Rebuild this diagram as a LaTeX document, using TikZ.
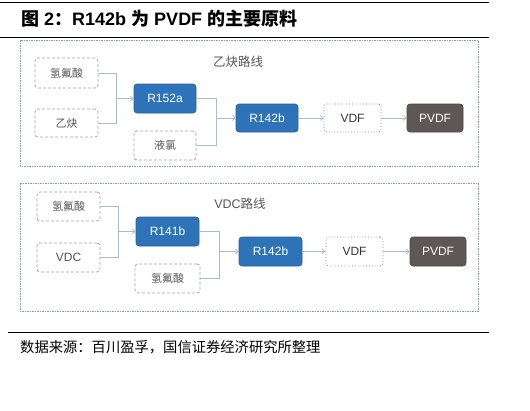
\documentclass[tikz,border=0pt]{standalone}
\usepackage{fontspec}
\setmainfont{Liberation Sans}
\newfontfamily\cjk{Noto Sans CJK SC}
\usetikzlibrary{arrows.meta}
\definecolor{bluef}{HTML}{2E72B8}
\definecolor{blued}{HTML}{2A5F9A}
\definecolor{pvdfc}{HTML}{5F5755}
\definecolor{framec}{HTML}{8C99A8}
\definecolor{linec}{HTML}{A8BBD0}
\definecolor{dashc}{HTML}{A3A3A3}
\definecolor{textg}{HTML}{555555}
\tikzset{
  base/.style={rounded corners=3pt, font=\fontsize{12}{14}\selectfont, inner sep=0pt},
  inbox/.style={base, draw=dashc, dashed, line width=0.8pt, text=textg, dash pattern=on 3pt off 2pt},
  cjklabel/.style={font=\fontsize{11}{13}\selectfont\cjk},
  bluebox/.style={base, draw=blued, fill=bluef, text=white, line width=0.6pt},
  vdfbox/.style={base, draw=dashc!80!black, dotted, line width=0.8pt, text=black!80},
  pvdfbox/.style={base, draw=pvdfc!80!black, fill=pvdfc, text=white, line width=0.6pt},
  conn/.style={draw=linec, line width=0.7pt},
  arr/.style={conn, -{Straight Barb[length=3pt,width=5pt]}},
  frame/.style={draw=framec, dashed, dash pattern=on 1.5pt off 1pt, line width=0.8pt},
  rule/.style={draw=black, line width=0.8pt},
  routetitle/.style={text=textg, font=\fontsize{12.5}{14}\selectfont}
}
\begin{document}
\begin{tikzpicture}[x=1pt,y=-1pt]
\useasboundingbox (0,0) rectangle (530,410);
% rules and captions
\draw[rule] (0,2) -- (489,2);
\draw[rule] (0,37) -- (489,37);
\draw[rule] (8,332) -- (489,332);
\node[anchor=west, inner sep=0pt, font=\fontsize{18}{21}\selectfont\bfseries] (title) at (21,19)
  {{\cjk\bfseries 图} 2{\cjk\bfseries ：}R142b {\cjk\bfseries 为} PVDF {\cjk\bfseries 的主要原料}};
\node[anchor=west, inner sep=0pt, font=\fontsize{14.3}{16}\selectfont\cjk] (src) at (20,347)
  {数据来源：百川盈孚，国信证券经济研究所整理};
% frames
\draw[frame] (20,40) rectangle (478,166);
\draw[frame] (20,183) rectangle (478,311);
% top route
\node[routetitle, font=\fontsize{12.5}{14}\selectfont\cjk] (t1) at (238,62) {乙炔路线};
\node[inbox, cjklabel, minimum width=63pt, minimum height=30pt] (hf1) at (66.5,73) {氢氟酸};
\node[inbox, cjklabel, minimum width=63pt, minimum height=28pt] (yq) at (66.5,123) {乙炔};
\node[bluebox, minimum width=62pt, minimum height=29pt] (r152a) at (165,98.5) {R152a};
\node[inbox, cjklabel, minimum width=62pt, minimum height=29pt] (yl) at (165,145.5) {液氯};
\node[bluebox, minimum width=62pt, minimum height=28pt] (r142b) at (267,118) {R142b};
\node[vdfbox, minimum width=57pt, minimum height=28pt] (vdf) at (352.5,118) {VDF};
\node[pvdfbox, minimum width=56pt, minimum height=28pt] (pvdf) at (435,118) {PVDF};
\coordinate (j1) at (116,98.5);
\coordinate (j2) at (216,118);
\draw[conn] (hf1.east) -| (j1);
\draw[conn] (yq.east) -| (j1);
\draw[arr] (j1) -- (r152a.west);
\draw[conn] (r152a.east) -| (j2);
\draw[conn] (yl.east) -| (j2);
\draw[arr] (j2) -- (r142b.west);
\draw[arr] (r142b.east) -- (vdf.west);
\draw[arr] (vdf.east) -- (pvdf.west);
% bottom route
\node[routetitle] (t2) at (240,204) {VDC{\cjk 路线}};
\node[inbox, cjklabel, minimum width=63pt, minimum height=29pt] (hf2) at (68.5,206.5) {氢氟酸};
\node[inbox, minimum width=63pt, minimum height=29pt] (vdc) at (68.5,257.5) {VDC};
\node[bluebox, minimum width=63pt, minimum height=29pt] (r141b) at (167.5,231.5) {R141b};
\node[inbox, cjklabel, minimum width=65pt, minimum height=29pt] (hf3) at (167.5,278.5) {氢氟酸};
\node[bluebox, minimum width=63pt, minimum height=29pt] (r142b2) at (270.5,251.5) {R142b};
\node[vdfbox, minimum width=57pt, minimum height=29pt] (vdf2) at (354.5,251.5) {VDF};
\node[pvdfbox, minimum width=56pt, minimum height=29pt] (pvdf2) at (438,251.5) {PVDF};
\coordinate (j3) at (118,231.5);
\coordinate (j4) at (219,251.5);
\draw[conn] (hf2.east) -| (j3);
\draw[conn] (vdc.east) -| (j3);
\draw[arr] (j3) -- (r141b.west);
\draw[conn] (r141b.east) -| (j4);
\draw[conn] (hf3.east) -| (j4);
\draw[arr] (j4) -- (r142b2.west);
\draw[arr] (r142b2.east) -- (vdf2.west);
\draw[arr] (vdf2.east) -- (pvdf2.west);
\end{tikzpicture}
\end{document}
